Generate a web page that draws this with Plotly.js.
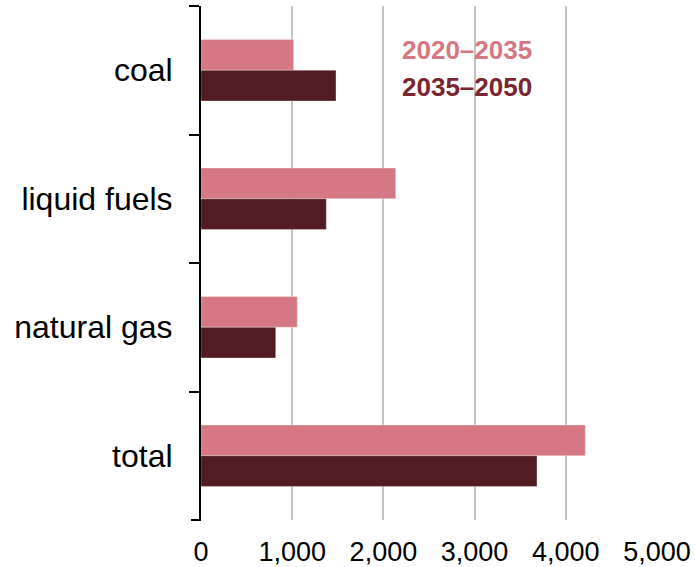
<!DOCTYPE html>
<html>
<head>
<meta charset="utf-8">
<script src="https://cdn.plot.ly/plotly-3.0.1.min.js"></script>
<style>html,body{margin:0;padding:0;background:#fff;}#chart{width:695px;height:567px;}</style>
</head>
<body>
<div id="chart"></div>
<script>
const categories = ["coal", "liquid fuels", "natural gas", "total"];
const series1Name = "2020–2035";
const series1Values = [1016, 2135, 1056, 4214];
const series2Name = "2035–2050";
const series2Values = [1480, 1374, 819, 3684];
const xTickValues = [0, 1000, 2000, 3000, 4000, 5000];

const pink = "#d57883";
const dark = "#531b22";
const darkText = "#7a2530";
const font = "Liberation Sans, Arial, sans-serif";

const traces = [
  {type: "bar", orientation: "h", name: series1Name, y: categories, x: series1Values,
   marker: {color: pink, line: {color: "rgba(255,255,255,0.6)", width: 0.5}}, hoverinfo: "x"},
  {type: "bar", orientation: "h", name: series2Name, y: categories, x: series2Values,
   marker: {color: dark, line: {color: "rgba(255,255,255,0.6)", width: 0.5}}, hoverinfo: "x"}
];

const layout = {
  width: 695, height: 567,
  margin: {l: 201, r: 38, t: 6, b: 47, pad: 0},
  paper_bgcolor: "#fff", plot_bgcolor: "#fff",
  barmode: "group", bargap: 0.522, bargroupgap: 0,
  showlegend: false,
  font: {family: font, color: "#000"},
  xaxis: {
    range: [0, 5000], tickvals: xTickValues, tickformat: ",",
    showgrid: true, gridcolor: "#c3c3c3", gridwidth: 2,
    zeroline: false, showline: false, ticks: "",
    tickfont: {size: 27, family: font, color: "#000"},
    ticklabelstandoff: 13
  },
  yaxis: {
    autorange: "reversed", categoryorder: "array", categoryarray: categories,
    showline: true, linecolor: "#000", linewidth: 2,
    ticks: "outside", tickson: "boundaries", ticklen: 10, tickwidth: 2, tickcolor: "#000",
    showgrid: false, zeroline: false,
    tickfont: {size: 32, family: font, color: "#000"},
    ticklabelstandoff: 20
  },
  shapes: [
    {type: "line", xref: "paper", yref: "paper", x0: -10/456, x1: 0, y0: 0, y1: 0,
     line: {color: "#000", width: 2}}
  ],
  annotations: [
    {xref: "paper", yref: "paper", x: (400-201)/456, y: 1-(50-6)/514, xanchor: "left", yanchor: "middle",
     text: "<b>" + series1Name + "</b>", showarrow: false, font: {size: 26, family: font, color: pink}},
    {xref: "paper", yref: "paper", x: (400-201)/456, y: 1-(87-6)/514, xanchor: "left", yanchor: "middle",
     text: "<b>" + series2Name + "</b>", showarrow: false, font: {size: 26, family: font, color: darkText}}
  ]
};

Plotly.newPlot("chart", traces, layout, {displayModeBar: false, staticPlot: true});
</script>
</body>
</html>
